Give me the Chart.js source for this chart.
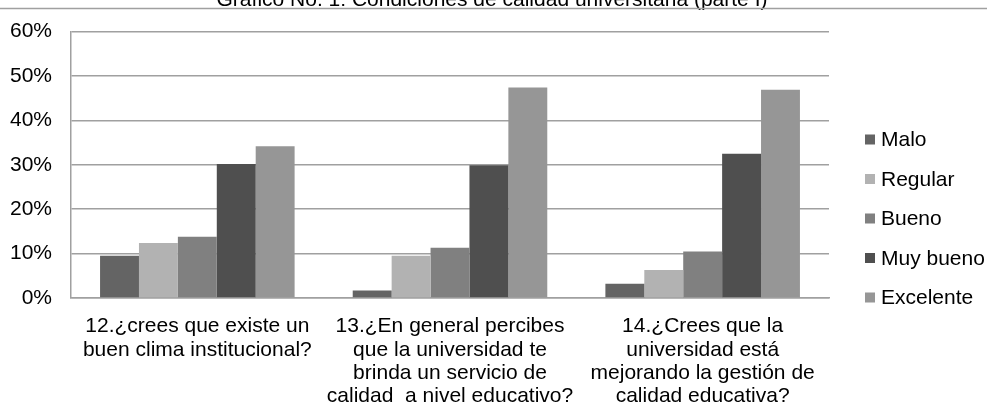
<!DOCTYPE html>
<html>
<head>
<meta charset="utf-8">
<script src="https://cdn.jsdelivr.net/npm/chart.js@4.4.1/dist/chart.umd.min.js"></script>
<style>
  html, body { margin: 0; padding: 0; background: #fff; overflow: hidden; }
  #wrap { width: 987px; height: 404px; }
</style>
</head>
<body>
<div id="wrap"><canvas id="c" width="987" height="404"></canvas></div>
<script>
const titleText = "Gráfico No. 1: Condiciones de calidad universitaria (parte I)";
const categories = [
  ["12.¿crees que existe un", "buen clima institucional?"],
  ["13.¿En general percibes", "que la universidad te", "brinda un servicio de", "calidad  a nivel educativo?"],
  ["14.¿Crees que la", "universidad está", "mejorando la gestión de", "calidad educativa?"]
];
const seriesNames = ["Malo", "Regular", "Bueno", "Muy bueno", "Excelente"];
const malo      = [9.5, 1.7, 3.2];
const regular   = [12.4, 9.5, 6.3];
const bueno     = [13.8, 11.3, 10.5];
const muyBueno  = [30.2, 29.9, 32.5];
const excelente = [34.2, 47.4, 46.9];
const yTicks = [0, 10, 20, 30, 40, 50, 60];
const colors = ["#646464", "#b2b2b2", "#808080", "#4f4f4f", "#969696"];

const FONT = "'Liberation Sans', Arial, sans-serif";
const FS = 21;
const values = [malo, regular, bueno, muyBueno, excelente];

const decor = {
  id: 'decor',
  afterDraw(chart) {
    const ctx = chart.ctx;
    const area = chart.chartArea;
    ctx.save();
    // clipped title at top
    ctx.fillStyle = '#000';
    ctx.font = FS + "px " + FONT;
    ctx.textAlign = 'center';
    ctx.textBaseline = 'alphabetic';
    ctx.fillText(titleText, 492, 6);
    // frame line
    ctx.strokeStyle = '#a0a0a0';
    ctx.lineWidth = 1.5;
    ctx.beginPath();
    ctx.moveTo(0, 8.5);
    ctx.lineTo(chart.width, 8.5);
    ctx.stroke();
    // legend
    const lx = area.right + 36;
    const y0 = 139.5, dy = 39.5;
    ctx.textAlign = 'left';
    ctx.textBaseline = 'middle';
    chart.data.datasets.forEach((ds, i) => {
      const cy = y0 + i * dy;
      ctx.fillStyle = ds.backgroundColor;
      ctx.fillRect(lx, cy - 5, 10, 10);
      ctx.fillStyle = '#000';
      ctx.fillText(ds.label, lx + 16, cy + 1);
    });
    ctx.restore();
  }
};

new Chart(document.getElementById('c'), {
  type: 'bar',
  data: {
    labels: categories,
    datasets: seriesNames.map((n, i) => ({
      label: n,
      data: values[i],
      backgroundColor: colors[i],
      borderWidth: 0,
      categoryPercentage: 0.77,
      barPercentage: 1.0
    }))
  },
  options: {
    responsive: false,
    animation: false,
    devicePixelRatio: 1,
    layout: { padding: { top: 20, right: 158, left: 0, bottom: 0 } },
    plugins: {
      legend: { display: false },
      title: { display: false },
      tooltip: { enabled: false }
    },
    scales: {
      x: {
        grid: { display: false, drawTicks: false },
        border: { display: true, color: '#a0a0a0', width: 1.5 },
        ticks: {
          color: '#000',
          font: { family: FONT, size: FS, lineHeight: 1.11 },
          padding: 17,
          maxRotation: 0,
          minRotation: 0,
          autoSkip: false
        },
        afterFit(scale) { scale.height = 106; }
      },
      y: {
        min: 0,
        max: 60,
        afterBuildTicks(scale) { scale.ticks = yTicks.map(v => ({ value: v })); },
        grid: { color: '#a0a0a0', lineWidth: 1.5, drawTicks: false },
        border: { display: true, color: '#a0a0a0', width: 1.5 },
        ticks: {
          color: '#000',
          font: { family: FONT, size: FS },
          padding: 19,
          callback: v => v + '%'
        },
        afterFit(scale) { scale.width = 71; }
      }
    }
  },
  plugins: [decor]
});
</script>
</body>
</html>
